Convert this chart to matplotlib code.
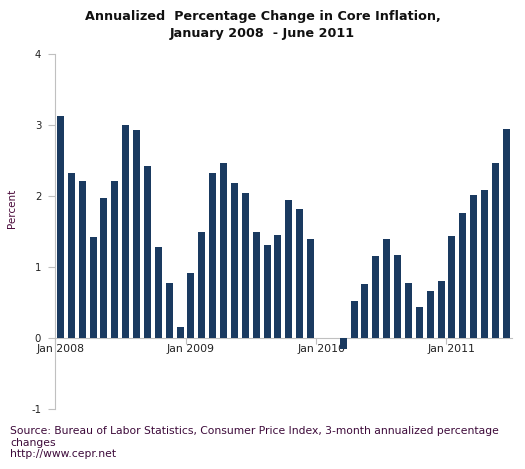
import numpy as np
import pandas as pd
import matplotlib
matplotlib.use("Agg")
import matplotlib.pyplot as plt

plt.rcParams['font.family'] = ['DejaVu Sans']

# monthly data, Jan 2008 - Jun 2011
months = pd.date_range("2008-01-01", "2011-06-01", freq="MS")
values_2008 = [3.13, 2.32, 2.21, 1.42, 1.97, 2.21, 3.00, 2.93, 2.42, 1.28, 0.78, 0.16]
values_2009 = [0.92, 1.49, 2.32, 2.47, 2.18, 2.04, 1.49, 1.31, 1.45, 1.94, 1.81, 1.39]
values_2010 = [0.0, 0.0, -0.15, 0.52, 0.76, 1.15, 1.39, 1.17, 0.78, 0.43, 0.66, 0.80]
values_2011 = [1.43, 1.76, 2.02, 2.09, 2.46, 2.95]
values = values_2008 + values_2009 + values_2010 + values_2011

yticks = [-1, 0, 1, 2, 3, 4]
bar_color = "#1a3a60"
grey = "#c0c0c0"

fig = plt.figure(figsize=(5.25, 4.69), dpi=100)
ax = fig.add_axes([0.1048, 0.1279, 0.8699, 0.757])

x = np.arange(len(values))
ax.bar(x, values, width=0.65, color=bar_color, zorder=3)

ax.set_xlim(-0.5, len(values) - 0.5)
ax.set_ylim(-1, 4)
ax.set_yticks(yticks)
ax.set_yticklabels([str(t) for t in yticks])

# january ticks at category boundaries, labels at category centre
jan_idx = [i for i, m in enumerate(months) if m.month == 1]
ax.set_xticks([i - 0.5 for i in jan_idx])
ax.set_xticklabels([])
ax.set_xticks(jan_idx, minor=True)
ax.set_xticklabels([months[i].strftime("Jan %Y") for i in jan_idx], minor=True)
ax.tick_params(axis="x", which="major", length=4, color=grey, direction="out")
ax.tick_params(axis="x", which="minor", length=0, pad=4, labelsize=7.8, labelcolor="#222222")
ax.tick_params(axis="y", length=5, color=grey, pad=5, labelsize=7.3, labelcolor="#222222")

for s in ["top", "right"]:
    ax.spines[s].set_visible(False)
ax.spines["bottom"].set_position(("data", 0))
ax.spines["bottom"].set_color(grey)
ax.spines["left"].set_color(grey)

fig.text(12 / 525, 1 - 208 / 469, "Percent", rotation=90, ha="center", va="center",
         fontsize=7.5, color="#4a0a3a")

fig.text(0.5, 1 - 25 / 469, "Annualized  Percentage Change in Core Inflation,\nJanuary 2008  - June 2011",
         ha="center", va="center", fontsize=9.2, fontweight="bold", color="#111111",
         linespacing=1.35)

fig.text(10 / 525, 1 - 426 / 469, "Source: Bureau of Labor Statistics, Consumer Price Index, 3-month annualized percentage\nchanges\nhttp://www.cepr.net",
         ha="left", va="top", fontsize=7.75, color="#3d0a3a", linespacing=1.2)

fig.savefig("out.png", dpi=100)
